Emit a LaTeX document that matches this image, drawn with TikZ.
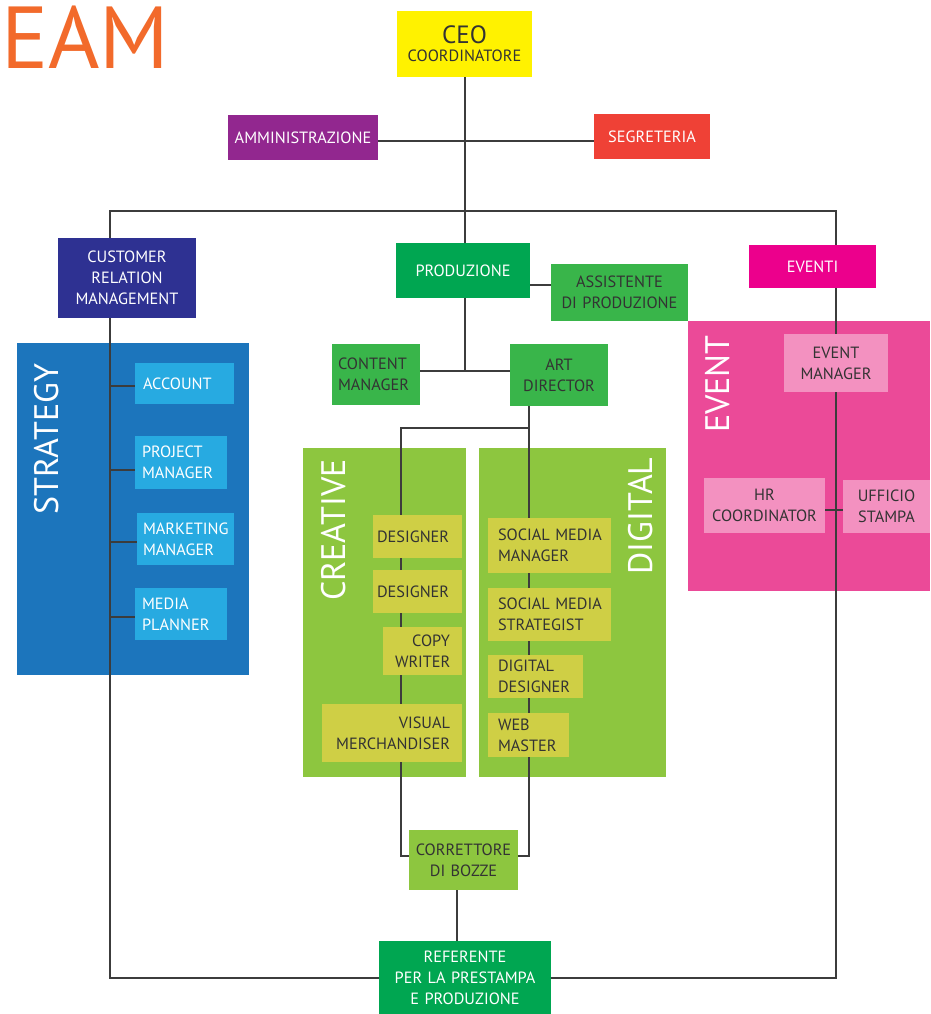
\documentclass[tikz,border=0pt]{standalone}
\usepackage{fontspec}
\setmainfont{PT Sans}
\definecolor{cyellow}{HTML}{FFF200}
\definecolor{cpurple}{HTML}{92278F}
\definecolor{cred}{HTML}{EF4136}
\definecolor{cnavy}{HTML}{2E3192}
\definecolor{cgreen}{HTML}{00A651}
\definecolor{cgreenm}{HTML}{39B54A}
\definecolor{cmag}{HTML}{EC008C}
\definecolor{cblue}{HTML}{1C75BC}
\definecolor{clblue}{HTML}{27AAE1}
\definecolor{clime}{HTML}{8DC63F}
\definecolor{colive}{HTML}{CFCF45}
\definecolor{cpink}{HTML}{EB4A98}
\definecolor{clpink}{HTML}{F391C0}
\definecolor{cline}{HTML}{3C3C3C}
\definecolor{ctxt}{HTML}{333333}
\definecolor{corange}{HTML}{F26A2B}
\pgfdeclarelayer{panels}
\pgfdeclarelayer{lines}
\pgfsetlayers{panels,lines,main}
\newcommand\bxfont{\fontsize{16.3}{21}\selectfont\hyphenpenalty=10000\exhyphenpenalty=10000}
\newcommand\biglab{\fontsize{34}{34}\selectfont}
\tikzset{
  box/.style={rectangle, inner ysep=0pt, font=\bxfont, text=white, align=center},
  dk/.style={text=ctxt},
  ln/.style={draw=cline, line width=1.8pt},
  panellab/.style={rotate=90, font=\biglab, text=white, inner sep=0pt},
}
% \bx[pad]{opts}{name}{x1}{y1}{x2}{y2}{fill}{text}
\newcommand\bx[9][8]{%
  \pgfmathsetmacro\bxw{#6-#4}\pgfmathsetmacro\bxh{#7-#5}%
  \pgfmathsetmacro\bxtw{#6-#4-2*#1}%
  \pgfmathsetmacro\bxcx{(#4+#6)/2}\pgfmathsetmacro\bxcy{(#5+#7)/2}%
  \node[box, fill=#8, inner xsep=#1pt, text width=\bxtw pt, minimum width=\bxw pt, minimum height=\bxh pt, #2] (#3) at (\bxcx,\bxcy) {#9};}
\begin{document}
\begin{tikzpicture}[x=1pt,y=-1pt]
\useasboundingbox (0,0) rectangle (930,1014);
% panels
\begin{pgfonlayer}{panels}
\fill[white] (0,0) rectangle (930,1014);
\fill[cblue] (17,343) rectangle (249,675);
\fill[clime] (303,448) rectangle (466,777);
\fill[clime] (479,448) rectangle (666,777);
\fill[cpink] (688,321) rectangle (930,591);
\end{pgfonlayer}
% title
\node[font=\fontsize{88}{88}\selectfont, text=corange, anchor=south west, inner sep=0pt] (title) at (1,69) {EAM};
\node[panellab] (lstrat) at (47,439) {STRATEGY};
\node[panellab] (lcrea) at (334,530) {CREATIVE};
\node[panellab] (ldig) at (641,516) {DIGITAL};
\node[panellab] (levent) at (718,384) {EVENT};
% boxes
\bx{dk}{ceo}{397}{11}{532}{77}{cyellow}{{\fontsize{25}{25}\selectfont CEO}\\[-3pt]COORDINATORE}
\bx[3]{}{admin}{228}{115}{378}{160}{cpurple}{AMMINISTRAZIONE}
\bx{}{segr}{594}{114}{710}{159}{cred}{SEGRETERIA}
\bx[3]{}{crm}{58}{238}{196}{318}{cnavy}{CUSTOMER\\RELATION\\MANAGEMENT}
\bx{}{prod}{396}{243}{530}{298}{cgreen}{PRODUZIONE}
\bx[3]{dk}{assist}{551}{264}{688}{321}{cgreenm}{ASSISTENTE\\DI~PRODUZIONE}
\bx{}{eventi}{749}{245}{876}{288}{cmag}{EVENTI}
\bx{align=left}{account}{135}{363}{234}{404}{clblue}{ACCOUNT}
\bx[7]{align=left}{pm}{135}{436}{227}{489}{clblue}{PROJECT\\MANAGER}
\bx[6]{align=left}{mm}{137}{513}{234}{565}{clblue}{MARKETING\\MANAGER}
\bx[7]{align=left}{mp}{135}{588}{227}{640}{clblue}{MEDIA\\PLANNER}
\bx[6]{dk,align=left}{content}{332}{344}{420}{405}{cgreenm}{CONTENT\\MANAGER}
\bx[3]{dk}{art}{510}{344}{608}{406}{cgreenm}{ART\\DIRECTOR}
\bx[4]{dk,align=left}{des1}{373}{515}{462}{558}{colive}{DESIGNER}
\bx[4]{dk,align=left}{des2}{373}{570}{462}{613}{colive}{DESIGNER}
\bx[12]{dk,align=right}{copy}{383}{627}{462}{675}{colive}{COPY\\WRITER}
\bx[12]{dk,align=right}{visual}{322}{704}{462}{762}{colive}{VISUAL\\MERCHANDISER}
\bx[10]{dk,align=left}{smm}{488}{518}{611}{573}{colive}{\mbox{SOCIAL MEDIA}\\MANAGER}
\bx[10]{dk,align=left}{sms}{488}{588}{611}{641}{colive}{\mbox{SOCIAL MEDIA}\\STRATEGIST}
\bx[10]{dk,align=left}{dd}{488}{655}{583}{698}{colive}{DIGITAL\\DESIGNER}
\bx[10]{dk,align=left}{web}{488}{713}{569}{757}{colive}{WEB\\MASTER}
\bx[3]{dk}{em}{784}{334}{888}{392}{clpink}{EVENT\\MANAGER}
\bx[3]{dk}{hr}{704}{478}{825}{533}{clpink}{HR\\COORDINATOR}
\bx[3]{dk}{uff}{843}{480}{930}{533}{clpink}{UFFICIO\\STAMPA}
\bx[3]{dk}{corr}{409}{830}{518}{890}{clime}{CORRETTORE\\DI~BOZZE}
\bx[3]{}{ref}{379}{941}{551}{1014}{cgreen}{REFERENTE\\PER~LA~PRESTAMPA\\E~PRODUZIONE}
% junctions
\coordinate (tl) at (110,211);
\coordinate (tr) at (836,211);
\coordinate (bl) at (110,978);
\coordinate (br) at (836,978);
\coordinate (cl) at (401,428);
\coordinate (dl) at (529,428);
\coordinate (pj) at (465,371);
% connectors
\begin{pgfonlayer}{lines}
\draw[ln] (pj |- ceo.south) -- (pj |- prod.north);
\draw[ln] (admin.east |- 0,141) -- (segr.west |- 0,141);
\draw[ln] (tl |- crm.north) -- (tl) -- (tr) -- (tr |- eventi.north);
\draw[ln] (tl |- crm.south) -- (bl) -- (bl -| ref.west);
\draw[ln] (ref.east |- br) -- (br) -- (tr |- eventi.south);
\draw[ln] (tl |- 0,386) -- (account.west |- 0,386);
\draw[ln] (tl |- 0,470) -- (pm.west |- 0,470);
\draw[ln] (tl |- 0,542) -- (mm.west |- 0,542);
\draw[ln] (tl |- 0,617) -- (mp.west |- 0,617);
\draw[ln] (prod.east |- 0,285) -- (assist.west |- 0,285);
\draw[ln] (pj |- prod.south) -- (pj);
\draw[ln] (content.east |- pj) -- (art.west |- pj);
\draw[ln] (dl |- art.south) -- (dl) -- (cl) -- (cl |- 0,856) -- (corr.west |- 0,856);
\draw[ln] (dl) -- (dl |- 0,856) -- (corr.east |- 0,856);
\draw[ln] (457,0 |- corr.south) -- (457,0 |- ref.north);
\draw[ln] (hr.east |- 0,510) -- (uff.west |- 0,510);
\end{pgfonlayer}
\end{tikzpicture}
\end{document}
